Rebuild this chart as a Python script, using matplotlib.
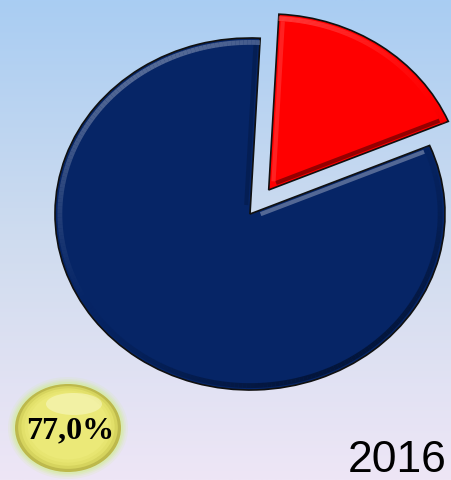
import matplotlib
matplotlib.use("Agg")
import matplotlib.pyplot as plt
import numpy as np
from matplotlib.collections import LineCollection
from matplotlib.colors import LinearSegmentedColormap, to_rgb
from matplotlib.patches import Ellipse

# Доли сегментов (красный первый, по часовой стрелке от верха)
SHARES = [17.8, 82.2]
SLICE_COLORS = ["#ff0000", "#062566"]
EXPLODE = [0.167, 0.0]
BADGE_TEXT = "77,0%"
YEAR = "2016"

W, H = 452, 480
LIGHT_DIR = 120  # свет сверху-слева, градусы

fig = plt.figure(figsize=(W / 100, H / 100), dpi=100)

# фон + бейдж, координаты в пикселях
bg = fig.add_axes([0, 0, 1, 1])
bg.set_xlim(0, W)
bg.set_ylim(H, 0)
bg.axis("off")
grad = LinearSegmentedColormap.from_list("bg", ["#a9cdf3", "#cfdcef", "#eee6f6"])
bg.imshow(np.linspace(0, 1, 256).reshape(-1, 1), cmap=grad, aspect="auto",
          extent=[0, W, H, 0], zorder=0)

# жёлтый "шар" со свечением
cx, cy, rx, ry = 68, 428, 53, 44
for k, a in zip([14, 10, 7, 4], [0.15, 0.2, 0.3, 0.45]):
    bg.add_patch(Ellipse((cx, cy), 2 * rx + k, 2 * ry + k, color="#d4ec9c",
                         alpha=a, lw=0, zorder=1))
shades = ["#bdb94c", "#d6d45e", "#e2e06a", "#e7e571", "#ebe978"]
for i, c in enumerate(shades):
    f = 1 - i * 0.06
    bg.add_patch(Ellipse((cx, cy - (1 - f) * 8), 2 * rx * f, 2 * ry * f,
                         color=c, lw=0, zorder=2))
bg.add_patch(Ellipse((cx + 6, cy - 24), 56, 22, color="#fafad0", alpha=0.5,
                     lw=0, zorder=3))
bg.text(cx + 2, cy + 3, BADGE_TEXT, ha="center", va="center", fontsize=23,
        fontweight="bold", family="Liberation Serif", color="black", zorder=4)
bg.text(447, 472, YEAR, ha="right", va="baseline", fontsize=32,
        family="Liberation Sans", color="black", zorder=4)

# пирог: эллипс с центром (250, 214), полуоси 195 x 176 px
pcx, pcy, prx, pry = 250, 214, 195, 176
ax = fig.add_axes([0, 0, 1, 1])
ax.patch.set_alpha(0)
wedges, _ = ax.pie(SHARES, colors=SLICE_COLORS, explode=EXPLODE,
                   startangle=87, counterclock=False,
                   wedgeprops=dict(edgecolor="#101010", linewidth=1.2))
ax.set_aspect("auto")
ax.set_xlim(-pcx / prx, (W - pcx) / prx)
ax.set_ylim(-(H - pcy) / pry, pcy / pry)
ax.axis("off")


def shade(base, k):
    # k > 0 -> светлее, k < 0 -> темнее
    if k >= 0:
        return tuple(base + (1 - base) * 0.45 * k)
    return tuple(base * (1 + 0.6 * k))


# объёмная кромка
for w, col in zip(wedges, SLICE_COLORS):
    base = np.array(to_rgb(col))
    c = np.array(w.center)
    t1, t2 = w.theta1, w.theta2
    ang = np.linspace(t1, t2, 240)
    k = np.cos(np.deg2rad(ang - LIGHT_DIR))
    r = 0.975
    pts = np.column_stack([c[0] + r * np.cos(np.deg2rad(ang)),
                           c[1] + r * np.sin(np.deg2rad(ang))])
    segs = np.stack([pts[:-1], pts[1:]], axis=1)
    kk = (k[:-1] + k[1:]) / 2
    cols = [shade(base, v) + (0.35 + 0.35 * abs(v),) for v in kk]
    ax.add_collection(LineCollection(segs, colors=cols, linewidths=3.5, zorder=3))
    # радиальные грани
    for th, sgn in ((t1, -1), (t2, 1)):
        normal = th + sgn * 90
        v = np.cos(np.deg2rad(normal - LIGHT_DIR))
        a = np.deg2rad(th)
        n = np.deg2rad(normal)
        off = -0.022 * np.array([np.cos(n), np.sin(n)])
        p0 = c + 0.05 * np.array([np.cos(a), np.sin(a)]) + off
        p1 = c + 0.96 * np.array([np.cos(a), np.sin(a)]) + off
        ax.plot([p0[0], p1[0]], [p0[1], p1[1]], color=shade(base, v), lw=3.0,
                alpha=0.35 + 0.35 * abs(v), zorder=3, solid_capstyle="butt")

fig.savefig("out.png", dpi=100)
